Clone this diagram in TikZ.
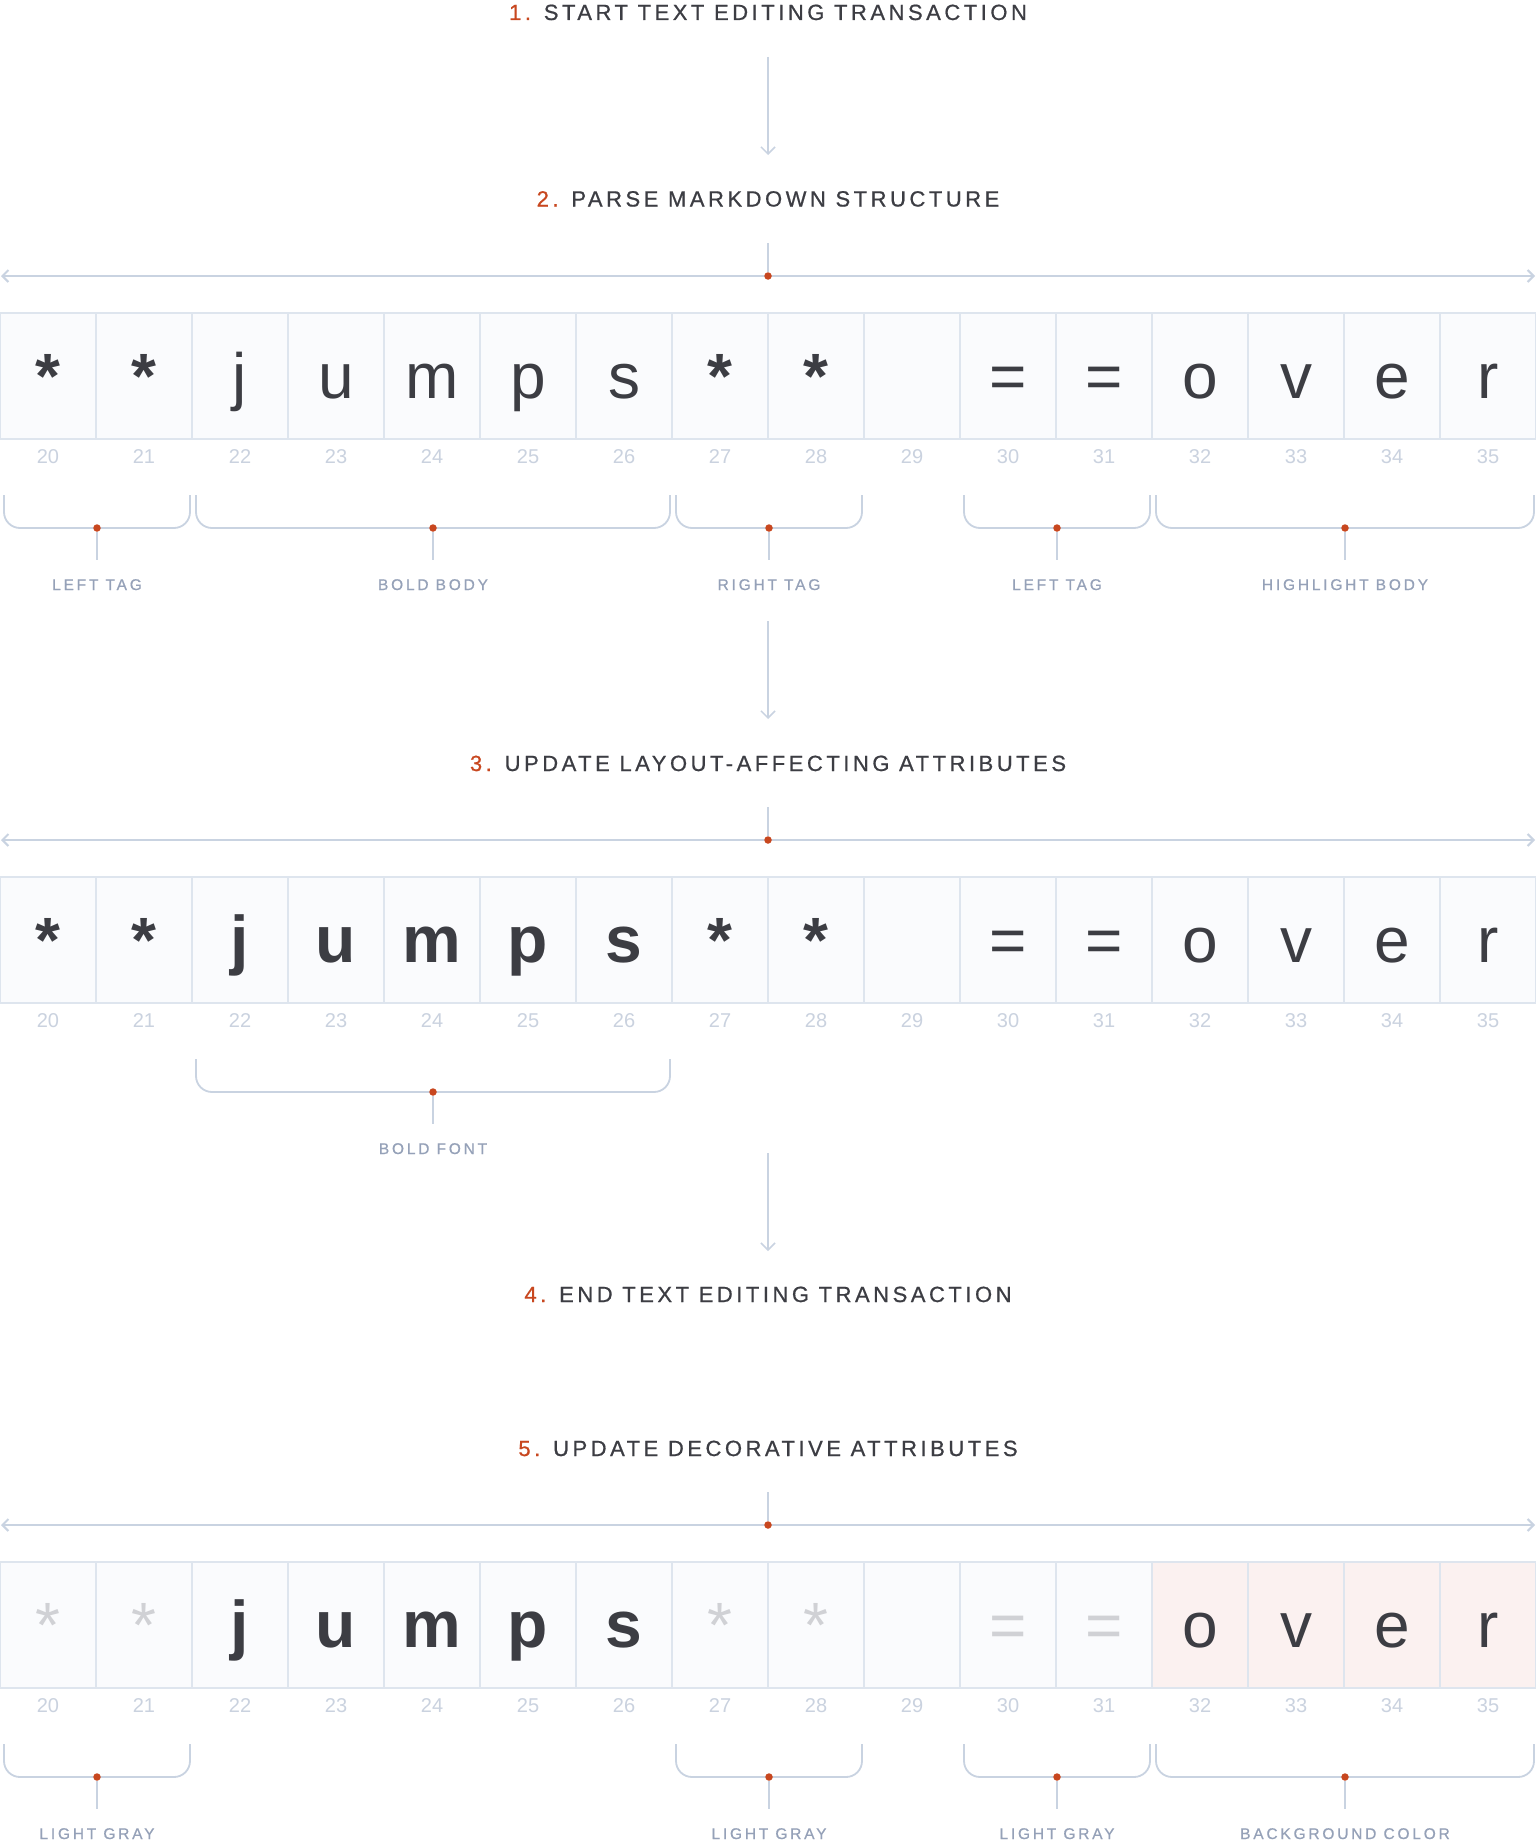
\documentclass[tikz,border=0pt]{standalone}
\usepackage{fontspec}
\setmainfont{Liberation Sans}
\newfontfamily\ttlfont[LetterSpace=16,FakeBold=0.7]{Liberation Sans}
\newfontfamily\lblfont[LetterSpace=18,FakeBold=0.6]{Liberation Sans}
\usetikzlibrary{arrows.meta}
\definecolor{ink}{HTML}{3C3D43}
\definecolor{accent}{HTML}{C8471F}
\definecolor{rule}{HTML}{C9D3E1}
\definecolor{cellfill}{HTML}{FAFBFD}
\definecolor{cellline}{HTML}{DEE5EE}
\definecolor{numgray}{HTML}{CAD2DF}
\definecolor{lblgray}{HTML}{95A1B8}
\definecolor{pinkfill}{HTML}{FBF1F0}
\definecolor{faint}{HTML}{D0D1D5}
\tikzset{
  title/.style={anchor=base, inner sep=0pt, font=\ttlfont\fontsize{22}{26}\selectfont, text=ink},
  cell/.style={draw=cellline, line width=1.5pt, fill=cellfill, minimum width=96pt, minimum height=126pt,
    inner sep=0pt, text height=50pt, text depth=6pt, font=\fontsize{64}{70}\selectfont, text=ink},
  cellreg/.style={},
  cellast/.style={font=\fontsize{64}{70}\selectfont\bfseries},
  cellbld/.style={font=\fontsize{66}{72}\selectfont\bfseries},
  celllgt/.style={text=faint},
  cellpnk/.style={fill=pinkfill},
  num/.style={anchor=base, inner sep=0pt, font=\fontsize{20}{24}\selectfont, text=numgray},
  lbl/.style={anchor=base, inner sep=0pt, font=\lblfont\fontsize{15.5}{18}\selectfont, text=lblgray},
  brc/.style={draw=rule, line width=1.8pt, rounded corners=16pt},
  stem/.style={draw=rule, line width=1.5pt},
  flow/.style={draw=rule, line width=1.5pt, -{Straight Barb[length=7pt,width=14pt]}},
  axis/.style={draw=rule, line width=2pt, {Straight Barb[length=6pt,width=12pt]}-{Straight Barb[length=6pt,width=12pt]}},
  dot/.style={circle, fill=accent, inner sep=0pt, minimum size=7.5pt},
}
\newcommand\cellrow[3]{%
  \foreach \ch/\sty [count=\i from 0] in {#3} {
    \node[cell, cell\sty] (c#1-\i) at ({48+96*\i}, #2) {\ch};
    \pgfmathtruncatemacro\nn{20+\i}
    \node[num] (n#1-\i) at ({48+96*\i}, #2+87) {\nn};
  }}
\newcommand\spanmark[5]{%
  \pgfmathsetmacro\xa{96*#2+4}
  \pgfmathsetmacro\xb{96*(#3+1)-2}
  \pgfmathsetmacro\xm{(\xa+\xb)/2}
  \draw[brc] (\xa,#4) -- (\xa,#4+33) -- (\xb,#4+33) -- (\xb,#4);
  \node[dot] (d#1) at (\xm,#4+33) {};
  \coordinate (e#1) at (\xm,#4+65);
  \draw[stem] (d#1) -- (e#1);
  \node[lbl] (l#1) at (\xm,#4+95) {#5};
}
\begin{document}
\begin{tikzpicture}[x=1pt,y=-1pt]
\useasboundingbox (0,0) rectangle (1536,1844);
\fill[white] (0,0) rectangle (1536,1844);

% titles
\node[title] (t1) at (768,20) {\textcolor{accent}{1.} START TEXT EDITING TRANSACTION};
\node[title] (t2) at (768,206.5) {\textcolor{accent}{2.} PARSE MARKDOWN STRUCTURE};
\node[title] (t3) at (768,771) {\textcolor{accent}{3.} UPDATE LAYOUT-AFFECTING ATTRIBUTES};
\node[title] (t4) at (768,1302) {\textcolor{accent}{4.} END TEXT EDITING TRANSACTION};
\node[title] (t5) at (768,1456) {\textcolor{accent}{5.} UPDATE DECORATIVE ATTRIBUTES};

% flow arrows
\coordinate (a1s) at (768,57);   \coordinate (a1e) at (768,155);
\coordinate (a2s) at (768,621);  \coordinate (a2e) at (768,719);
\coordinate (a3s) at (768,1153); \coordinate (a3e) at (768,1251);
\draw[flow] (a1s) -- (a1e);
\draw[flow] (a2s) -- (a2e);
\draw[flow] (a3s) -- (a3e);

% axes
\foreach \s/\y in {2/276, 3/840, 5/1525} {
  \coordinate (h\s l) at (1,\y);
  \coordinate (h\s r) at (1535,\y);
  \draw[axis] (h\s l) -- (h\s r);
  \coordinate (s\s) at (768,\y-33);
  \node[dot] (m\s) at (768,\y) {};
  \draw[stem] (s\s) -- (m\s);
}

% rows
\cellrow{2}{376}{*/ast,*/ast,j/reg,u/reg,m/reg,p/reg,s/reg,*/ast,*/ast,{}/reg,=/reg,=/reg,o/reg,v/reg,e/reg,r/reg}
\cellrow{3}{940}{*/ast,*/ast,j/bld,u/bld,m/bld,p/bld,s/bld,*/ast,*/ast,{}/reg,=/reg,=/reg,o/reg,v/reg,e/reg,r/reg}
\cellrow{5}{1625}{*/lgt,*/lgt,j/bld,u/bld,m/bld,p/bld,s/bld,*/lgt,*/lgt,{}/reg,=/lgt,=/lgt,o/pnk,v/pnk,e/pnk,r/pnk}

% spans section 2
\spanmark{b1}{0}{1}{495}{LEFT TAG}
\spanmark{b2}{2}{6}{495}{BOLD BODY}
\spanmark{b3}{7}{8}{495}{RIGHT TAG}
\spanmark{b4}{10}{11}{495}{LEFT TAG}
\spanmark{b5}{12}{15}{495}{HIGHLIGHT BODY}
% section 3
\spanmark{b6}{2}{6}{1059}{BOLD FONT}
% section 5
\spanmark{b7}{0}{1}{1744}{LIGHT GRAY}
\spanmark{b8}{7}{8}{1744}{LIGHT GRAY}
\spanmark{b9}{10}{11}{1744}{LIGHT GRAY}
\spanmark{b10}{12}{15}{1744}{BACKGROUND COLOR}
\end{tikzpicture}
\end{document}
